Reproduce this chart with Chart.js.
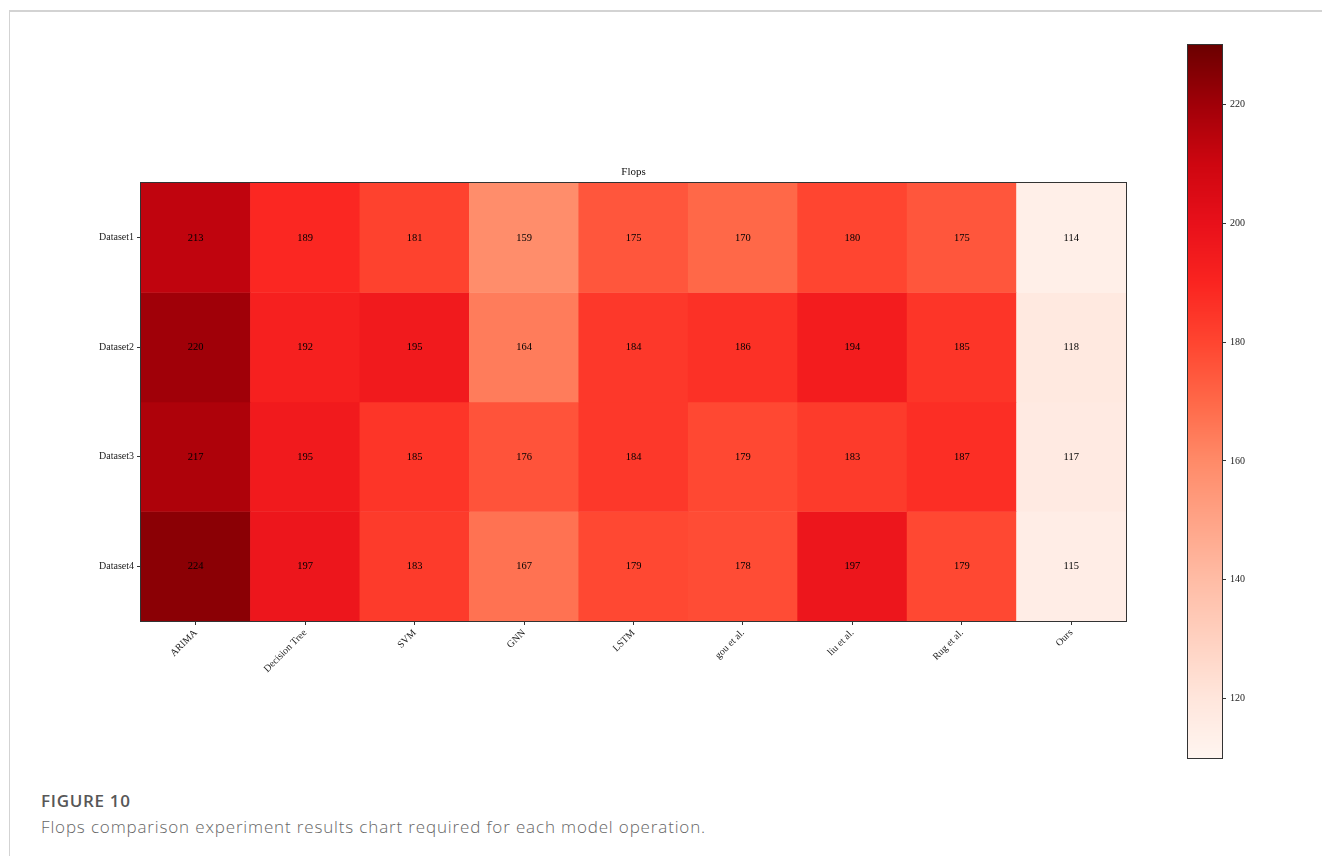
<!DOCTYPE html>
<html>
<head>
<meta charset="utf-8">
<title>Flops</title>
<script src="https://cdn.jsdelivr.net/npm/chart.js@4/dist/chart.umd.min.js"></script>
<style>
  html, body { margin: 0; padding: 0; background: #fff; }
  body { width: 1322px; height: 856px; position: relative; overflow: hidden; }
  .frame {
    position: absolute; left: 9px; top: 10px; right: 0; bottom: -10px;
    border-top: 2px solid #d3d3d3; border-left: 1px solid #d3d3d3;
  }
  #heat { position: absolute; left: 0; top: 150px; }
  #cbar { position: absolute; left: 1150px; top: 30px; }
  .caption { position: absolute; left: 41px; top: 789px; font-family: "Open Sans", sans-serif; }
  .caption .fig { font-size: 17px; font-weight: 600; color: #575757; letter-spacing: 0.7px; }
  .caption .txt { font-size: 17px; color: #666; margin-top: 3px; font-weight: 300; letter-spacing: 0.85px; }
</style>
</head>
<body>
<div class="frame"></div>
<canvas id="heat" width="1150" height="570"></canvas>
<canvas id="cbar" width="120" height="750"></canvas>
<div class="caption">
  <div class="fig">FIGURE 10</div>
  <div class="txt">Flops comparison experiment results chart required for each model operation.</div>
</div>

<script>
// ====== DADOS ======
const models = ["ARIMA", "Decision Tree", "SVM", "GNN", "LSTM", "gou et al.", "liu et al.", "Rug et al.", "Ours"];
const datasetNames = ["Dataset1", "Dataset2", "Dataset3", "Dataset4"];
const flops1 = [213, 189, 181, 159, 175, 170, 180, 175, 114];
const flops2 = [220, 192, 195, 164, 184, 186, 194, 185, 118];
const flops3 = [217, 195, 185, 176, 184, 179, 183, 187, 117];
const flops4 = [224, 197, 183, 167, 179, 178, 197, 179, 115];
const cbTicks = [120, 140, 160, 180, 200, 220];
const cbMin = 110;
const cbMax = 230;

const rows = [flops1, flops2, flops3, flops4];

// ====== ESCALA DE CORES (vermelhos) ======
const cmapStops = [
  [0.000, [255, 245, 240]],
  [0.083, [255, 230, 220]],
  [0.250, [255, 188, 165]],
  [0.417, [255, 138, 104]],
  [0.500, [255, 104, 72]],
  [0.583, [255, 69, 48]],
  [0.667, [250, 36, 32]],
  [0.750, [232, 16, 26]],
  [0.833, [206, 6, 16]],
  [0.917, [160, 0, 8]],
  [1.000, [107, 0, 0]]
];

function colorFor(v) {
  let t = (v - cbMin) / (cbMax - cbMin);
  t = Math.max(0, Math.min(1, t));
  for (let i = 1; i < cmapStops.length; i++) {
    const [t1, c1] = cmapStops[i];
    const [t0, c0] = cmapStops[i - 1];
    if (t <= t1) {
      const f = (t - t0) / (t1 - t0);
      const c = c0.map((a, k) => Math.round(a + (c1[k] - a) * f));
      return `rgb(${c[0]},${c[1]},${c[2]})`;
    }
  }
  const c = cmapStops[cmapStops.length - 1][1];
  return `rgb(${c[0]},${c[1]},${c[2]})`;
}

const serif = "'Liberation Serif', 'Times New Roman', serif";
const ink = "#222";

// moldura do gráfico + título + números nas células
const heatPlugin = {
  id: "heatDecor",
  afterDatasetsDraw(chart) {
    const { ctx } = chart;
    ctx.save();
    ctx.font = `10.5px ${serif}`;
    ctx.fillStyle = "#000";
    ctx.textAlign = "center";
    ctx.textBaseline = "middle";
    chart.data.datasets.forEach((ds, i) => {
      const meta = chart.getDatasetMeta(i);
      meta.data.forEach((el, j) => {
        ctx.fillText(String(ds.flops[j]), el.x, (el.y + el.base) / 2);
      });
    });
    ctx.restore();
  },
  afterDraw(chart) {
    const { ctx, chartArea } = chart;
    ctx.save();
    ctx.strokeStyle = "#333";
    ctx.lineWidth = 1;
    ctx.strokeRect(chartArea.left - 0.5, chartArea.top - 0.5,
      chartArea.right - chartArea.left + 1, chartArea.bottom - chartArea.top + 1);
    ctx.font = `11px ${serif}`;
    ctx.fillStyle = "#111";
    ctx.textAlign = "center";
    ctx.textBaseline = "middle";
    ctx.fillText("Flops", (chartArea.left + chartArea.right) / 2, chartArea.top - 11);
    ctx.restore();
  }
};

new Chart(document.getElementById("heat"), {
  type: "bar",
  data: {
    labels: models,
    datasets: rows.map((vals, i) => ({
      label: datasetNames[i],
      data: vals.map(() => [i, i + 1]),
      flops: vals,
      backgroundColor: vals.map(colorFor),
      borderWidth: 0,
      grouped: false,
      barPercentage: 1,
      categoryPercentage: 1
    }))
  },
  options: {
    responsive: false,
    animation: false,
    layout: { padding: { top: 33, right: 24, bottom: 0, left: 0 } },
    plugins: {
      legend: { display: false },
      title: { display: false },
      tooltip: { enabled: false }
    },
    scales: {
      x: {
        type: "category",
        offset: true,
        border: { display: false },
        grid: { offset: false, drawOnChartArea: false, drawTicks: true, tickLength: 4, color: "#333" },
        ticks: { minRotation: 45, maxRotation: 45, padding: 2, color: ink, font: { family: serif, size: 10 } },
        afterFit: s => { s.height = 99; }
      },
      y: {
        type: "linear",
        min: 0,
        max: 4,
        reverse: true,
        border: { display: false },
        grid: { drawOnChartArea: false, drawTicks: true, tickLength: 4, color: "#333" },
        afterBuildTicks: s => { s.ticks = datasetNames.map((d, i) => ({ value: i + 0.5 })); },
        ticks: { autoSkip: false, padding: 3, color: ink, font: { family: serif, size: 10 },
          callback: (v, i) => datasetNames[i] },
        afterFit: s => { s.width = 141; }
      }
    }
  },
  plugins: [heatPlugin]
});

// ====== BARRA DE CORES ======
const cbarPlugin = {
  id: "cbarFill",
  beforeDatasetsDraw(chart) {
    const { ctx, chartArea } = chart;
    const y = chart.scales.y;
    ctx.save();
    for (let py = Math.floor(chartArea.top); py < chartArea.bottom; py++) {
      ctx.fillStyle = colorFor(y.getValueForPixel(py + 0.5));
      ctx.fillRect(chartArea.left, py, chartArea.right - chartArea.left, 1);
    }
    ctx.strokeStyle = "#333";
    ctx.lineWidth = 1;
    ctx.strokeRect(chartArea.left - 0.5, chartArea.top - 0.5,
      chartArea.right - chartArea.left + 1, chartArea.bottom - chartArea.top + 1);
    ctx.restore();
  }
};

new Chart(document.getElementById("cbar"), {
  type: "bar",
  data: { labels: [""], datasets: [{ data: [] }] },
  options: {
    responsive: false,
    animation: false,
    layout: { padding: { top: 15, right: 8, bottom: 22, left: 38 } },
    plugins: { legend: { display: false }, tooltip: { enabled: false } },
    scales: {
      x: { display: false },
      y: {
        position: "right",
        min: cbMin,
        max: cbMax,
        border: { display: false },
        grid: { drawOnChartArea: false, drawTicks: true, tickLength: 4, color: "#333" },
        afterBuildTicks: s => { s.ticks = cbTicks.map(v => ({ value: v })); },
        ticks: { autoSkip: false, padding: 4, color: ink, font: { family: serif, size: 10 } },
        afterFit: s => { s.width = 40; }
      }
    }
  },
  plugins: [cbarPlugin]
});
</script>
</body>
</html>
